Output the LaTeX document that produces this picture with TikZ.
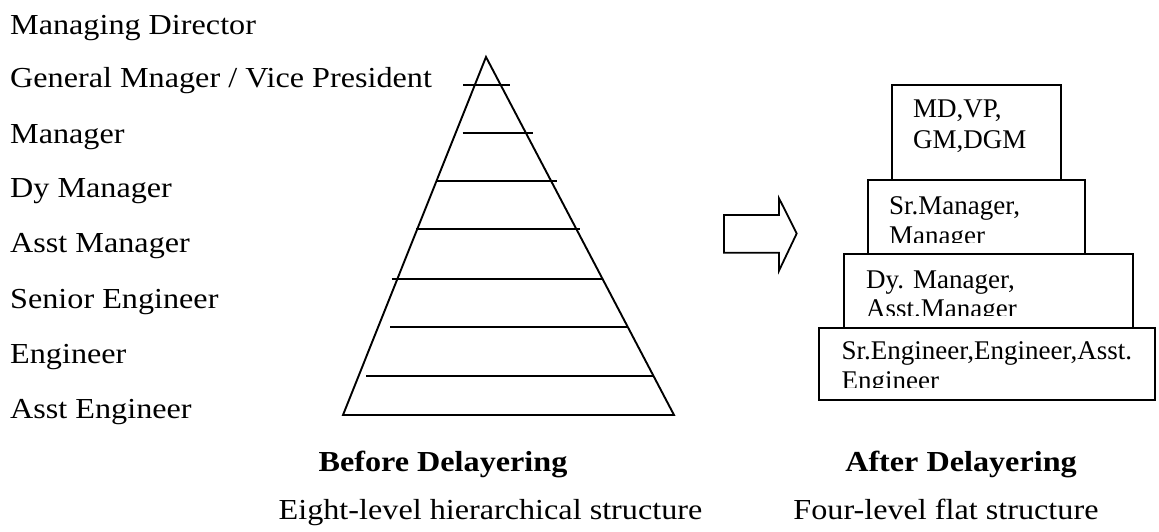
\documentclass[tikz,border=0pt]{standalone}
\usepackage{fontspec}
\setmainfont{Liberation Serif}
% Liberation Serif widened to take the place of a book face
\newfontfamily\bookfont[FakeStretch=1.11]{Liberation Serif}
\begin{document}
\begin{tikzpicture}[x=1pt,y=-1pt,
  rule/.style={line width=1.9pt},
  levelname/.style={anchor=base west,inner sep=0pt,font=\bookfont\fontsize{29}{29}\selectfont},
  caption/.style={anchor=base,inner sep=0pt,font=\bookfont\fontsize{29}{29}\selectfont},
  captionhead/.style={caption,font=\bookfont\bfseries\fontsize{29}{29}\selectfont},
  tier/.style={draw,line width=1.8pt,fill=white,anchor=north west,inner sep=0pt,outer sep=0pt},
  tiertext/.style={anchor=base west,inner sep=0pt,font=\fontsize{27}{27}\selectfont}]
\useasboundingbox (0,0) rectangle (1159,532);

% level names of the eight-level structure
\node[levelname] (l1) at (10,35)  {Managing Director};
\node[levelname] (l2) at (10,88)  {General Mnager / Vice President};
\node[levelname] (l3) at (10,143) {Manager};
\node[levelname] (l4) at (10,197) {Dy Manager};
\node[levelname] (l5) at (10,252) {Asst Manager};
\node[levelname] (l6) at (10,308) {Senior Engineer};
\node[levelname] (l7) at (10,363) {Engineer};
\node[levelname] (l8) at (10,418) {Asst Engineer};

% the pyramid and its level rules
\coordinate (apex) at (486,57);
\coordinate (bl) at (343,415);
\coordinate (br) at (674,415);
\draw[rule] (apex) -- (bl) -- (br) -- cycle;
\draw[rule] (463,85)    -- (510,85);
\draw[rule] (462.7,133.3) -- (533.3,133.3);
\draw[rule] (436.7,180.7) -- (556.7,180.7);
\draw[rule] (416,229.3) -- (580,229.3);
\draw[rule] (391.7,278.7) -- (603.3,278.7);
\draw[rule] (390,326.7) -- (627.7,326.7);
\draw[rule] (366,376)   -- (652.7,376);

% block arrow between the two structures
\draw[line width=1.8pt,line join=miter]
  (724,215) -- (779,215) -- (779,198.3) -- (796.7,233.5)
  -- (779,270.7) -- (779,252.7) -- (724,252.7) -- cycle;

% four-level flat structure
\node[tier,minimum width=168.4pt,minimum height=95pt] (b1) at (892.3,85) {};
\node[tier,minimum width=216.7pt,minimum height=73.5pt] (b2) at (868.3,180) {};
\node[tier,minimum width=289pt,minimum height=73.7pt] (b3) at (844.3,254) {};
\node[tier,minimum width=335.7pt,minimum height=72.3pt] (b4) at (819.3,327.7) {};

\node[tiertext] (t1a) at (913,118) {MD,VP,};
\node[tiertext] (t1b) at (913,149) {GM,DGM};

\node[tiertext] (t2a) at (889,214) {Sr.Manager,};
\begin{scope}
  \clip (869,181) rectangle (1084,242.5);
  \node[tiertext] (t2b) at (889,244) {Manager};
\end{scope}

\node[tiertext] (t3a) at (866,288) {Dy. Manager,};
\begin{scope}
  \clip (845,255) rectangle (1132,315.5);
  \node[tiertext] (t3b) at (866,317) {Asst.Manager};
\end{scope}

\node[tiertext] (t4a) at (841.5,359.5) {Sr.Engineer,Engineer,Asst.};
\begin{scope}
  \clip (820,329) rectangle (1154,387.5);
  \node[tiertext] (t4b) at (841.5,389) {Engineer};
\end{scope}

% captions
\node[captionhead] (c1) at (443,471.5) {Before Delayering};
\node[caption] (c2) at (490.5,519) {Eight-level hierarchical structure};
\node[captionhead] (c3) at (961,471.5) {After Delayering};
\node[caption] (c4) at (946,519) {Four-level flat structure};
\end{tikzpicture}
\end{document}
